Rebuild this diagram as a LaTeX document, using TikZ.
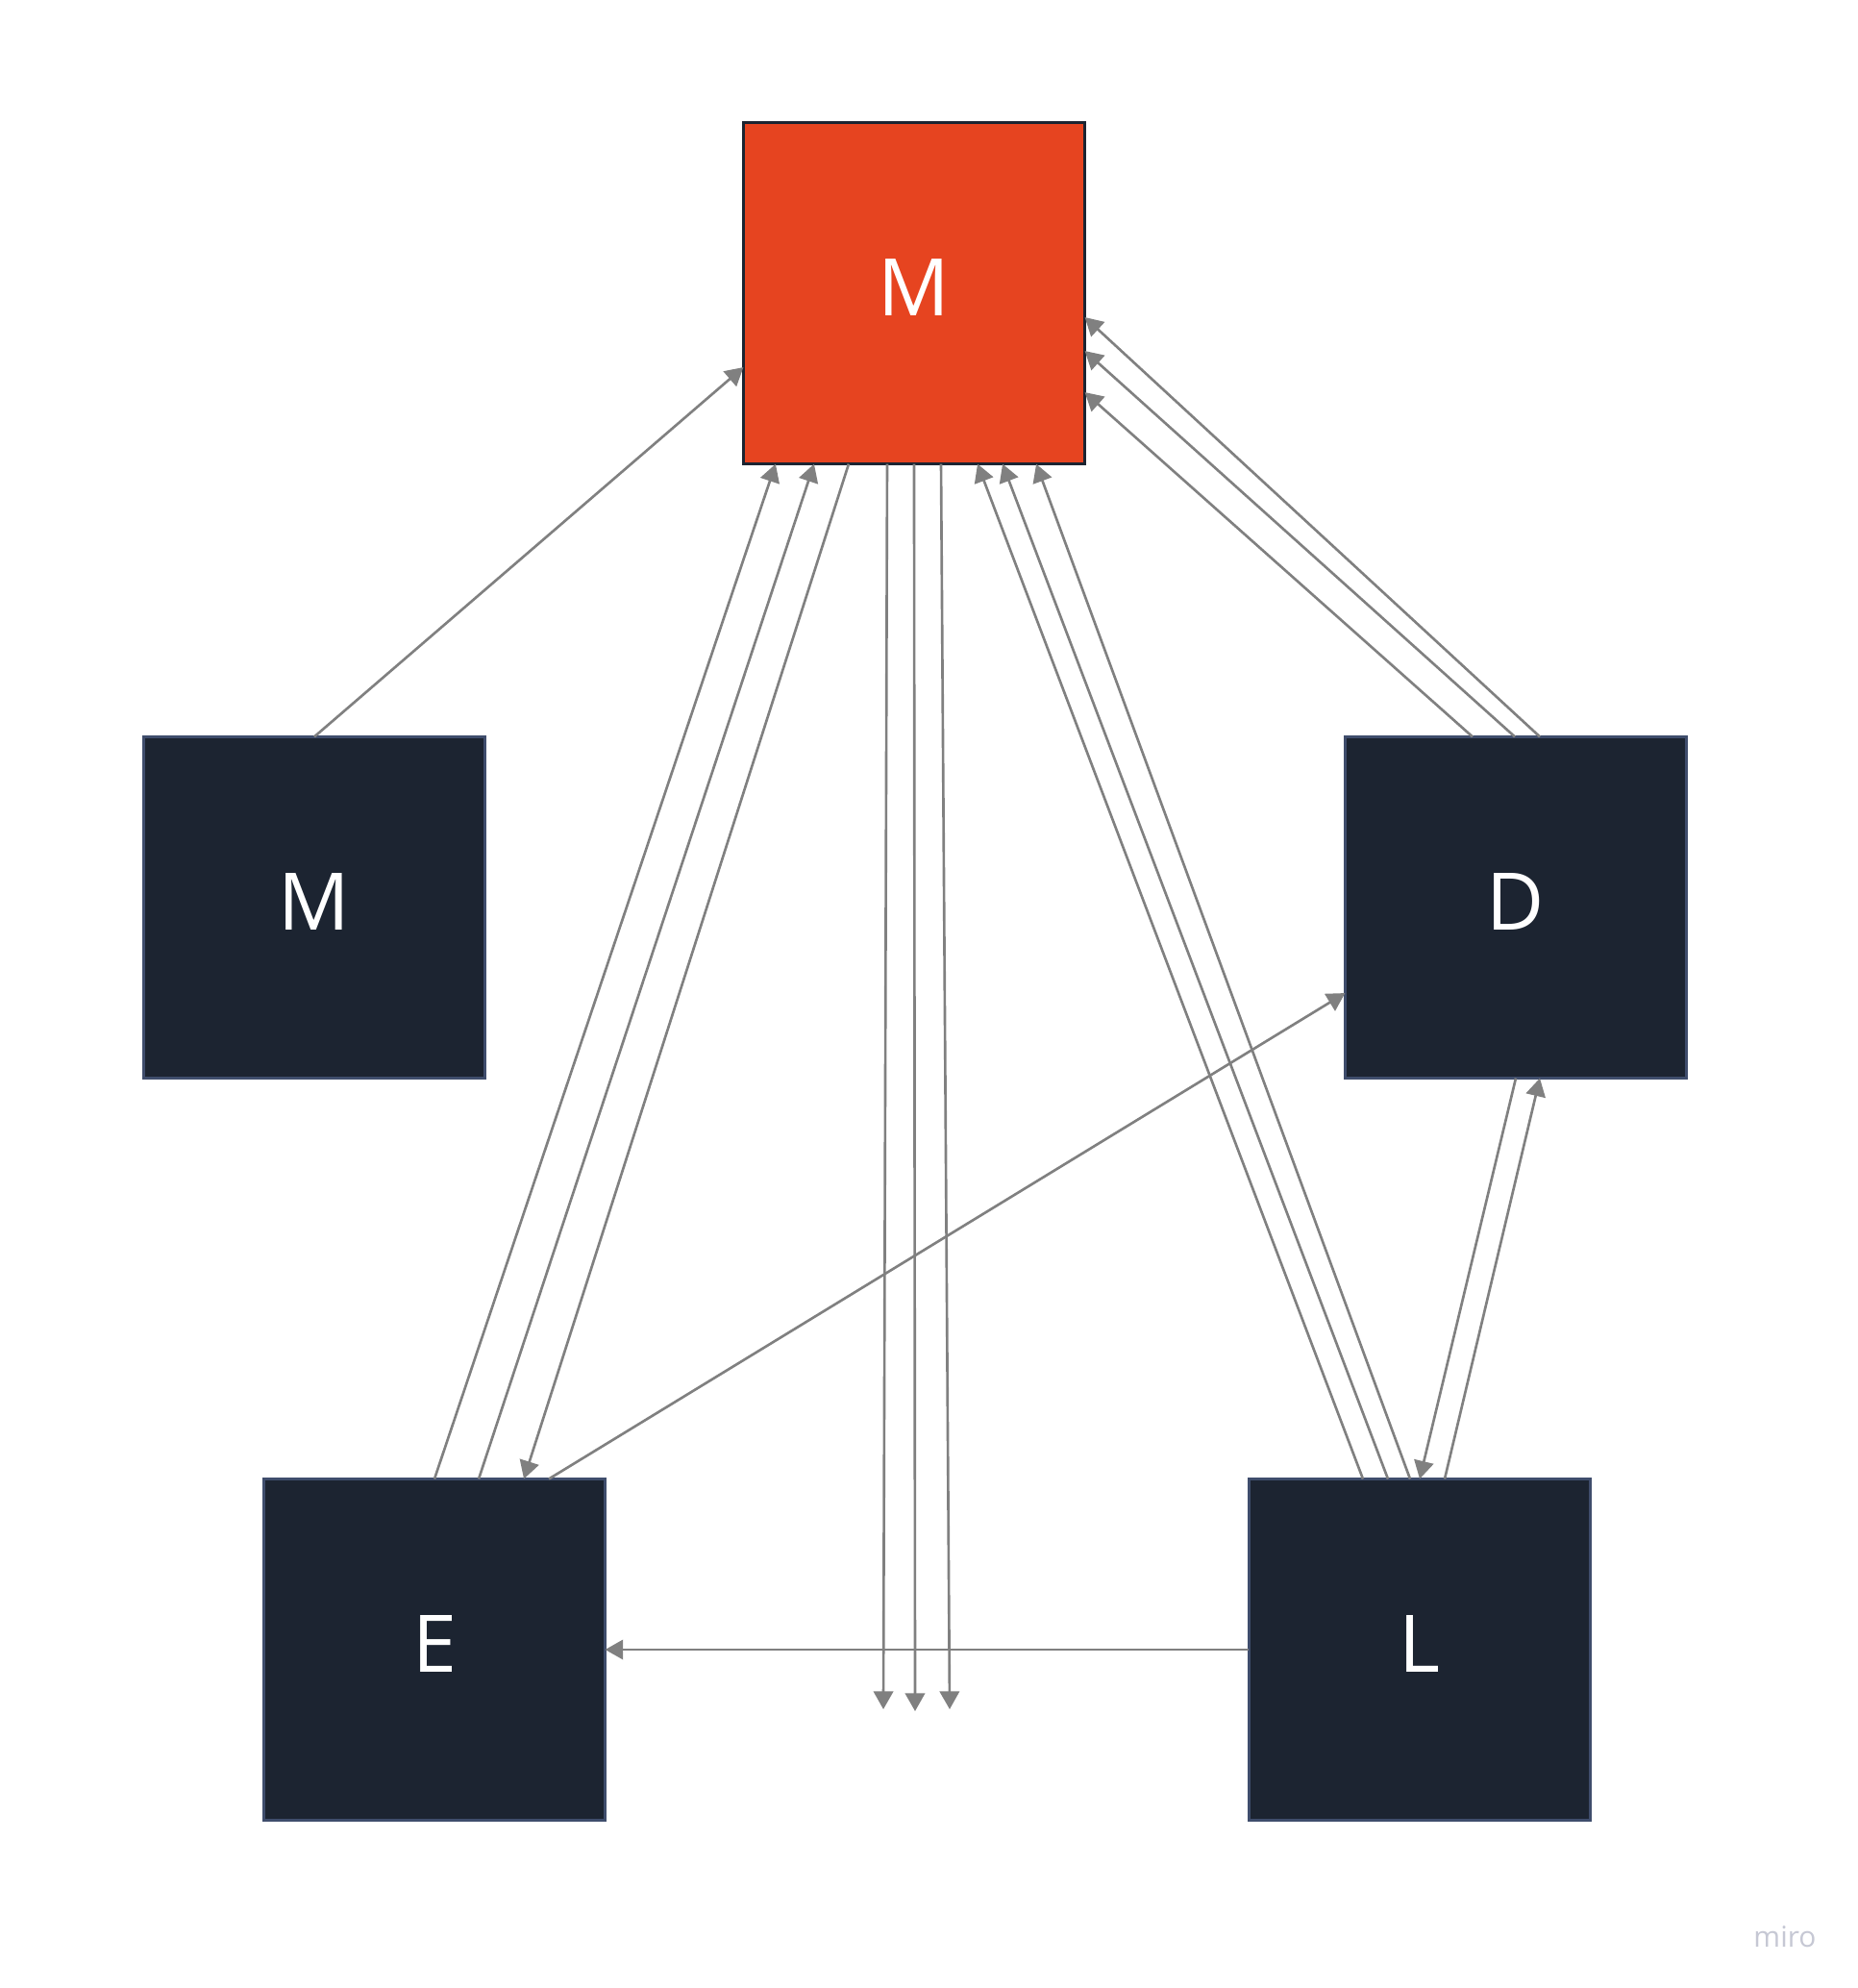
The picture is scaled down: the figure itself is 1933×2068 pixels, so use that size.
\documentclass[tikz,border=0pt]{standalone}
\usepackage{fontspec}
\setmainfont{Open Sans}
\usepackage{tkz-graph}
\usetikzlibrary{arrows.meta}
\definecolor{hubred}{HTML}{E64420}
\definecolor{boxdark}{HTML}{1C2431}
\definecolor{boxedge}{HTML}{3F4D6C}
\definecolor{linkgray}{HTML}{808080}
\definecolor{marklight}{HTML}{C6C8D4}

\begin{document}
\begin{tikzpicture}[x=0.01cm, y=-0.01cm]
                \fill[white] (0,0) rectangle (1933,2068);
                \tikzset{LinkStyle/.style={draw=linkgray, line width=0.75pt, -{Triangle[length=5.3pt,width=5.8pt]}}}
                \tikzset{VertexStyle/.style={shape=rectangle, fill=hubred, draw=boxdark, line width=1pt, minimum size=3.55cm, inner sep=0pt, text=white, text height=0.6cm, text depth=0.14cm, font=\fontsize{23.5}{28}\selectfont}}
                \Vertex[x=951, y=305, L=M]{Mt}
                \tikzset{VertexStyle/.append style={fill=boxdark, draw=boxedge}}
                \Vertex[x=327, y=944, L=M]{Ml}
                \Vertex[x=1577, y=944, L=D]{D}
                \Vertex[x=452, y=1716, L=E]{E}
		\Vertex[x=1477, y=1716, L=L]{L}
                \coordinate (o1) at (919,1778);
                \coordinate (o2) at (952,1780);
		\coordinate (o3) at (988,1778);
		\draw[LinkStyle] (Ml.north) -- ([yshift=-0.77cm]Mt.west);
		\draw[LinkStyle] (E.north) -- ([xshift=-1.44cm]Mt.south);
		\draw[LinkStyle] ([xshift=0.46cm]E.north) -- ([xshift=-1.04cm]Mt.south);
		\draw[LinkStyle] ([xshift=-0.68cm]Mt.south) -- ([xshift=0.93cm]E.north);
		\draw[LinkStyle] ([xshift=-0.28cm]Mt.south) -- (o1);
		\draw[LinkStyle] (Mt.south) -- (o2);
		\draw[LinkStyle] ([xshift=0.28cm]Mt.south) -- (o3);
		\draw[LinkStyle] ([xshift=-0.59cm]L.north) -- ([xshift=0.66cm]Mt.south);
		\draw[LinkStyle] ([xshift=-0.33cm]L.north) -- ([xshift=0.92cm]Mt.south);
		\draw[LinkStyle] ([xshift=-0.10cm]L.north) -- ([xshift=1.27cm]Mt.south);
		\draw[LinkStyle] ([xshift=-0.45cm]D.north) -- ([yshift=-1.03cm]Mt.east);
		\draw[LinkStyle] ([xshift=-0.01cm]D.north) -- ([yshift=-0.60cm]Mt.east);
		\draw[LinkStyle] ([xshift=0.25cm]D.north) -- ([yshift=-0.25cm]Mt.east);
		\draw[LinkStyle] ([xshift=1.19cm]E.north) -- ([yshift=-0.89cm]D.west);
		\draw[LinkStyle] (D.south) -- (L.north);
		\draw[LinkStyle] ([xshift=0.26cm]L.north) -- ([xshift=0.25cm]D.south);
		\draw[LinkStyle] (L.west) -- (E.east);
                \node[text=marklight, font=\fontsize{8.5}{10}\selectfont] (wm) at (1857,2015) {miro};

            \end{tikzpicture}
\end{document}
